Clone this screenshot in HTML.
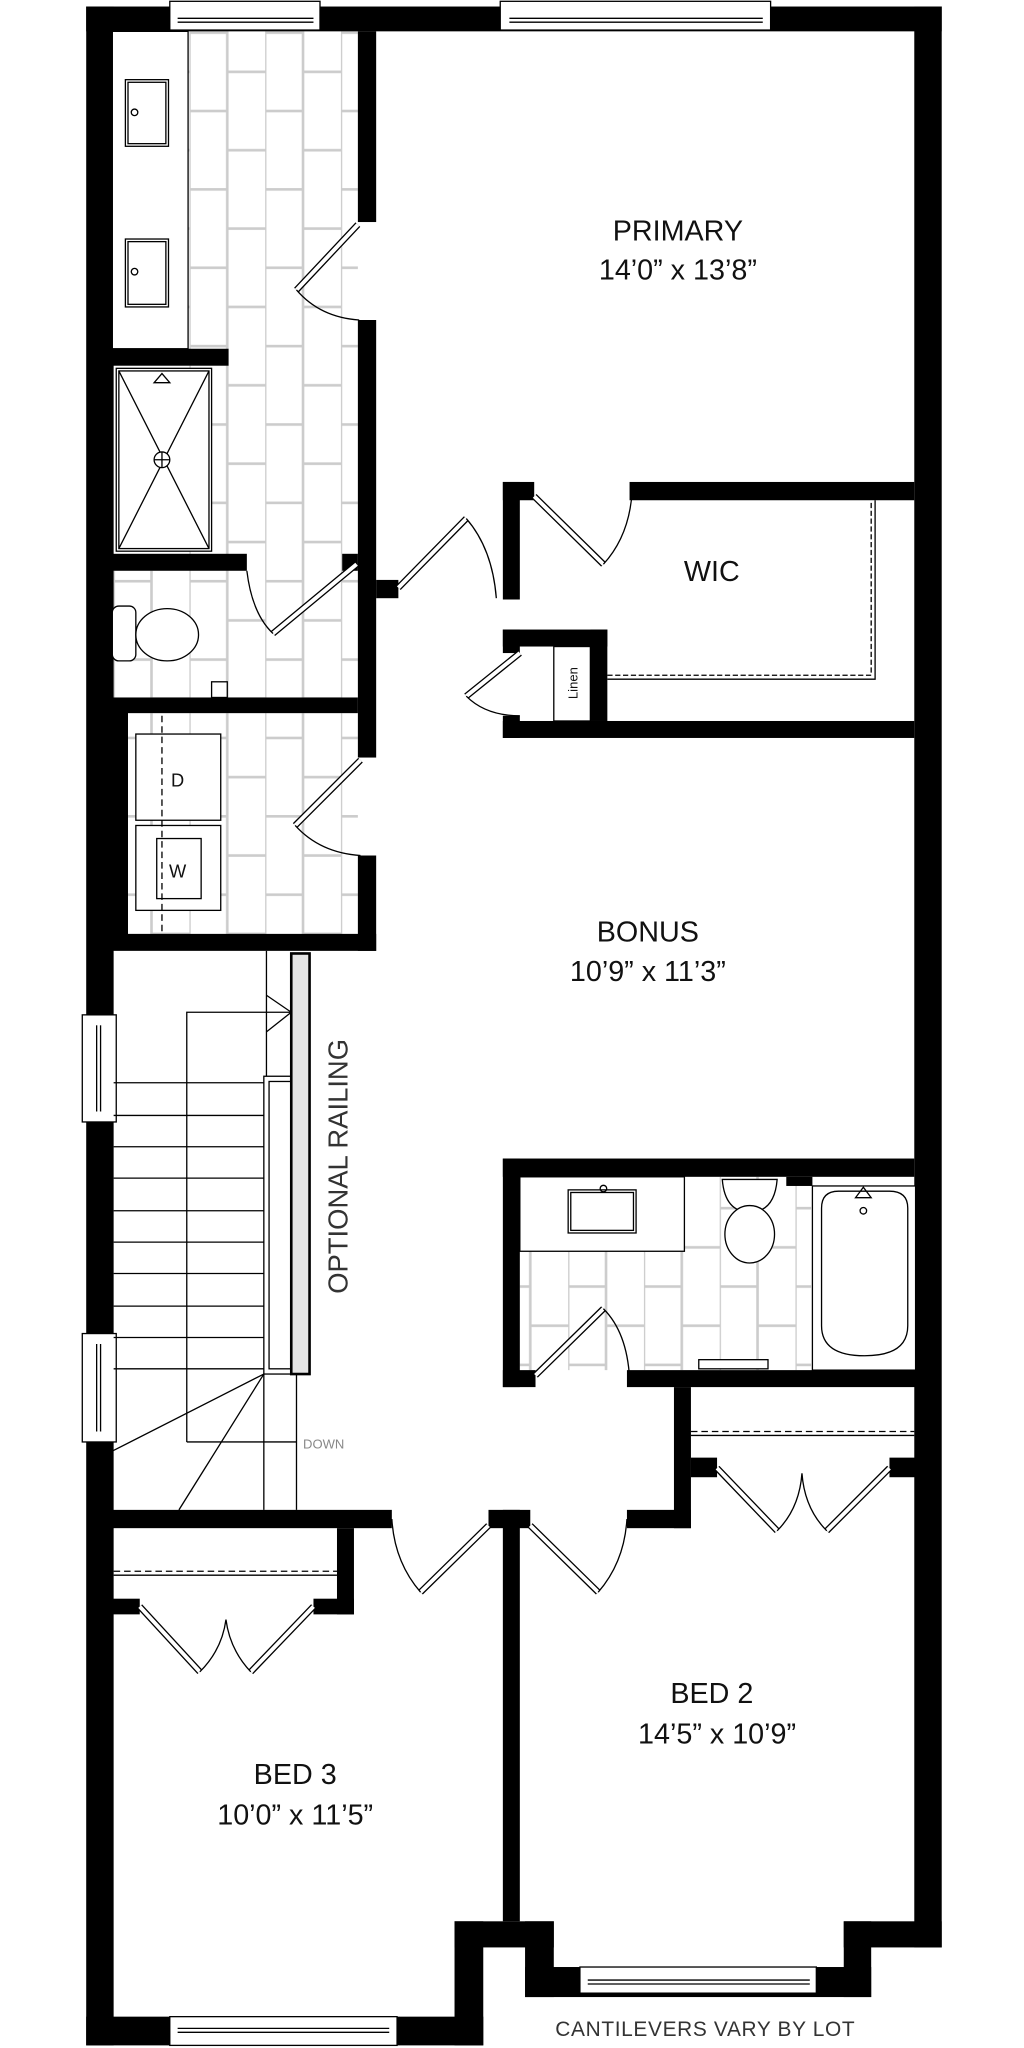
<!DOCTYPE html>
<html><head><meta charset="utf-8"><style>
html,body{margin:0;padding:0;background:#fff;}
svg{display:block;}
text{font-family:"Liberation Sans",sans-serif;fill:#111;}
</style></head><body>
<svg width="1024" height="2048" viewBox="0 0 784 1568" xmlns="http://www.w3.org/2000/svg">
<defs>
<pattern id="tile" x="145" y="24" width="58" height="60" patternUnits="userSpaceOnUse">
<rect width="58" height="60" fill="#fff"/>
<path d="M0 0V60M29 0V60M0 1H29M29 31H58" stroke="#ccc" stroke-width="2" fill="none"/>
</pattern>
</defs>
<!-- tiled floors -->
<rect x="144" y="24" width="130" height="510" fill="url(#tile)"/>
<rect x="98" y="546" width="176" height="170" fill="url(#tile)"/>
<rect x="398" y="901" width="223" height="148" fill="url(#tile)"/>
<rect x="86" y="437" width="188" height="97" fill="url(#tile)"/>

<g fill="#000">
<!-- outer walls -->
<rect x="66" y="5" width="21" height="1561"/>
<rect x="66" y="5" width="655" height="19"/>
<rect x="700" y="5" width="21" height="1486"/>
<rect x="66" y="1544" width="304" height="22"/>
<rect x="348" y="1471" width="22" height="95"/>
<rect x="348" y="1471" width="76" height="20"/>
<rect x="402" y="1471" width="22" height="58"/>
<rect x="402" y="1506" width="265" height="23"/>
<rect x="646" y="1471" width="21" height="58"/>
<rect x="646" y="1471" width="75" height="20"/>
<!-- master bath / primary wall -->
<rect x="274" y="24" width="14" height="146"/>
<rect x="274" y="245" width="14" height="335"/>
<rect x="274" y="655" width="14" height="73"/>
<rect x="262" y="424" width="12" height="13"/>
<rect x="86" y="267" width="89" height="13"/>
<rect x="86" y="424" width="103" height="13"/>
<rect x="86" y="534" width="188" height="12"/>
<rect x="86" y="546" width="12" height="170"/>
<rect x="86" y="715" width="202" height="13"/>
<rect x="288" y="444" width="17" height="14"/>
<!-- WIC -->
<rect x="385" y="369" width="13" height="90"/>
<rect x="385" y="369" width="24" height="14"/>
<rect x="482" y="369" width="218" height="14"/>
<rect x="385" y="482" width="13" height="18"/>
<rect x="385" y="482" width="80" height="13"/>
<rect x="452" y="482" width="13" height="70"/>
<rect x="385" y="548" width="13" height="17"/>
<rect x="385" y="552" width="315" height="13"/>
<!-- bath 2 -->
<rect x="385" y="887" width="315" height="14"/>
<rect x="385" y="887" width="13" height="175"/>
<rect x="385" y="1049" width="25" height="13"/>
<rect x="480" y="1049" width="221" height="13"/>
<rect x="602" y="901" width="20" height="7"/>
<!-- bed2 closet -->
<rect x="516" y="1062" width="13" height="108"/>
<rect x="529" y="1116" width="20" height="15"/>
<rect x="681" y="1116" width="20" height="15"/>
<!-- hall wall -->
<rect x="86" y="1156" width="214" height="14"/>
<rect x="374" y="1156" width="32" height="14"/>
<rect x="480" y="1156" width="49" height="14"/>
<rect x="385" y="1156" width="13" height="315"/>
<!-- bed3 closet -->
<rect x="258" y="1170" width="13" height="66"/>
<rect x="240" y="1224" width="31" height="12"/>
<rect x="86" y="1224" width="21" height="12"/>
</g>

<!-- windows -->
<g fill="#fff" stroke="#000" stroke-width="1">
<rect x="130" y="1" width="115" height="22"/><line x1="136" y1="14" x2="240" y2="14"/><line x1="136" y1="17" x2="240" y2="17"/>
<rect x="383" y="1" width="207" height="22"/><line x1="390" y1="14" x2="584" y2="14"/><line x1="390" y1="17" x2="584" y2="17"/>
<rect x="130" y="1544" width="174" height="22"/><line x1="136" y1="1553" x2="298" y2="1553"/><line x1="136" y1="1556" x2="298" y2="1556"/>
<rect x="444" y="1506" width="181" height="20"/><line x1="450" y1="1516" x2="620" y2="1516"/><line x1="450" y1="1519" x2="620" y2="1519"/>
<rect x="63" y="777" width="26" height="82"/><line x1="74" y1="785" x2="74" y2="851"/><line x1="77" y1="785" x2="77" y2="851"/>
<rect x="63" y="1021" width="26" height="83"/><line x1="74" y1="1029" x2="74" y2="1096"/><line x1="77" y1="1029" x2="77" y2="1096"/>
</g>

<g fill="none" stroke="#000" stroke-width="1">
<!-- vanity & sinks -->
<rect x="86" y="24" width="58" height="243" fill="#fff"/>
<rect x="96" y="61" width="33" height="51"/><rect x="98" y="63" width="29" height="47"/>
<rect x="96" y="183" width="33" height="52"/><rect x="98" y="185" width="29" height="48"/>
<circle cx="103" cy="86" r="2.5"/><circle cx="103" cy="208" r="2.5"/>
<!-- shower -->
<rect x="89" y="282" width="73" height="140" fill="#fff"/><rect x="91" y="284" width="69" height="136"/>
<path d="M91 284L160 420M160 284L91 420"/>
<circle cx="124" cy="352" r="6" fill="#fff"/><path d="M118 352H130M124 346V358"/>
<path d="M118 293L124 286L130 293Z"/>
<!-- toilet -->
<rect x="86" y="464" width="18" height="42" rx="5" fill="#fff"/>
<ellipse cx="128" cy="486" rx="24" ry="20" fill="#fff"/>
<rect x="162" y="522" width="12" height="12" fill="#fff"/>
<!-- laundry -->
<rect x="104" y="562" width="65" height="66" fill="#fff"/>
<rect x="104" y="632" width="65" height="65" fill="#fff"/>
<rect x="120" y="642" width="34" height="46"/>
<line x1="124" y1="548" x2="124" y2="714" stroke-dasharray="5,3"/>
<line x1="86" y1="546" x2="98" y2="546"/>
<!-- WIC shelf -->
<path d="M465 517H667V383" stroke-dasharray="4,2"/><path d="M465 520H670V383"/>
<rect x="424" y="495" width="28" height="57" fill="#fff"/>
<!-- stairs -->
<line x1="87" y1="829" x2="205" y2="829"/><line x1="87" y1="854" x2="205" y2="854"/>
<line x1="87" y1="878" x2="205" y2="878"/><line x1="87" y1="902" x2="205" y2="902"/>
<line x1="87" y1="927" x2="205" y2="927"/><line x1="87" y1="951" x2="205" y2="951"/>
<line x1="87" y1="975" x2="205" y2="975"/><line x1="87" y1="1000" x2="205" y2="1000"/>
<line x1="87" y1="1024" x2="205" y2="1024"/><line x1="87" y1="1048" x2="205" y2="1048"/>
<path d="M143 1104V775H223"/><path d="M204 762L223 775L204 790"/>
<line x1="204" y1="728" x2="204" y2="824"/>
<path d="M143 1104H227"/>
<line x1="202" y1="1052" x2="202" y2="1156"/><line x1="227" y1="1052" x2="227" y2="1156"/>
<line x1="202" y1="1052" x2="86" y2="1111"/><line x1="202" y1="1052" x2="137" y2="1156"/>
<rect x="202" y="824" width="21" height="228" fill="#fff"/><rect x="206" y="828" width="17" height="220"/>
<rect x="223" y="730" width="14" height="322" fill="#e4e4e4" stroke-width="2"/>
<!-- bath2 -->
<rect x="398" y="901" width="126" height="57" fill="#fff"/>
<rect x="435" y="911" width="52" height="33"/><rect x="437" y="913" width="48" height="29"/>
<circle cx="462" cy="910" r="2.5"/>
<path d="M553 903Q555 928 574 928Q593 928 595 903Z" fill="#fff"/>
<ellipse cx="574" cy="945" rx="19" ry="22" fill="#fff"/>
<rect x="622" y="908" width="79" height="141" fill="#fff"/>
<path d="M629 925Q629 912 642 912H681Q695 912 695 925V1015Q695 1038 662 1038Q629 1038 629 1015Z"/>
<path d="M655 917L661 909L667 917Z"/><circle cx="661" cy="927" r="2.5"/>
<rect x="535" y="1041" width="53" height="7" fill="#fff"/>
<!-- closets -->
<line x1="529" y1="1096" x2="700" y2="1096" stroke-dasharray="5,3"/><line x1="529" y1="1099" x2="700" y2="1099"/>
<line x1="87" y1="1203" x2="258" y2="1203" stroke-dasharray="5,3"/><line x1="87" y1="1206" x2="258" y2="1206"/>
</g>

<!-- door leaves -->
<g stroke="#000" stroke-width="5" fill="none" stroke-linecap="butt">
<path d="M274 172L227 222M273 432L209 485M276 582L226 632M305 450L357 397M409 380L462 432M398 500L357 533M410 1053L462 1002M374 1168L322 1219M406 1168L458 1219M549 1124L595 1172M681 1124L633 1172M107 1230L153 1280M240 1230L192 1280"/>
</g>
<g stroke="#fff" stroke-width="3" fill="none">
<path d="M274 172L227 222M273 432L209 485M276 582L226 632M305 450L357 397M409 380L462 432M398 500L357 533M410 1053L462 1002M374 1168L322 1219M406 1168L458 1219M549 1124L595 1172M681 1124L633 1172M107 1230L153 1280M240 1230L192 1280"/>
</g>
<g stroke="#000" stroke-width="1" fill="none">
<path d="M227 222Q245 243 275 245"/>
<path d="M189 437Q193 470 209 485"/>
<path d="M226 632Q245 653 276 655"/>
<path d="M357 397Q377 420 380 458"/>
<path d="M462 432Q482 410 484 376"/>
<path d="M357 533Q372 548 398 548"/>
<path d="M462 1002Q480 1020 482 1055"/>
<path d="M300 1163Q302 1196 322 1219"/>
<path d="M458 1219Q478 1196 480 1163"/>
<path d="M595 1172Q612 1155 614 1128M633 1172Q616 1155 614 1128"/>
<path d="M153 1280Q170 1263 173 1240M192 1280Q176 1263 173 1240"/>
</g>

<!-- labels -->
<g text-anchor="middle">
<text x="519" y="184" font-size="22">PRIMARY</text>
<text x="519" y="214" font-size="22">14’0” x 13’8”</text>
<text x="545" y="445" font-size="22">WIC</text>
<text x="496" y="721" font-size="22">BONUS</text>
<text x="496" y="751" font-size="22">10’9” x 11’3”</text>
<text x="545" y="1304" font-size="22">BED 2</text>
<text x="549" y="1335" font-size="22">14’5” x 10’9”</text>
<text x="226" y="1366" font-size="22">BED 3</text>
<text x="226" y="1397" font-size="22">10’0” x 11’5”</text>
<text x="540" y="1559" font-size="16" style="fill:#333;letter-spacing:0.5px">CANTILEVERS VARY BY LOT</text>
<text x="136" y="602" font-size="14">D</text>
<text x="136" y="672" font-size="14">W</text>
<text x="0" y="0" font-size="21" transform="translate(266,893) rotate(-90)" style="fill:#333">OPTIONAL RAILING</text>
<text x="0" y="0" font-size="10" transform="translate(442,523) rotate(-90)">Linen</text>
</g>
<text x="232" y="1109" font-size="10" style="fill:#888">DOWN</text>
</svg>
</body></html>
